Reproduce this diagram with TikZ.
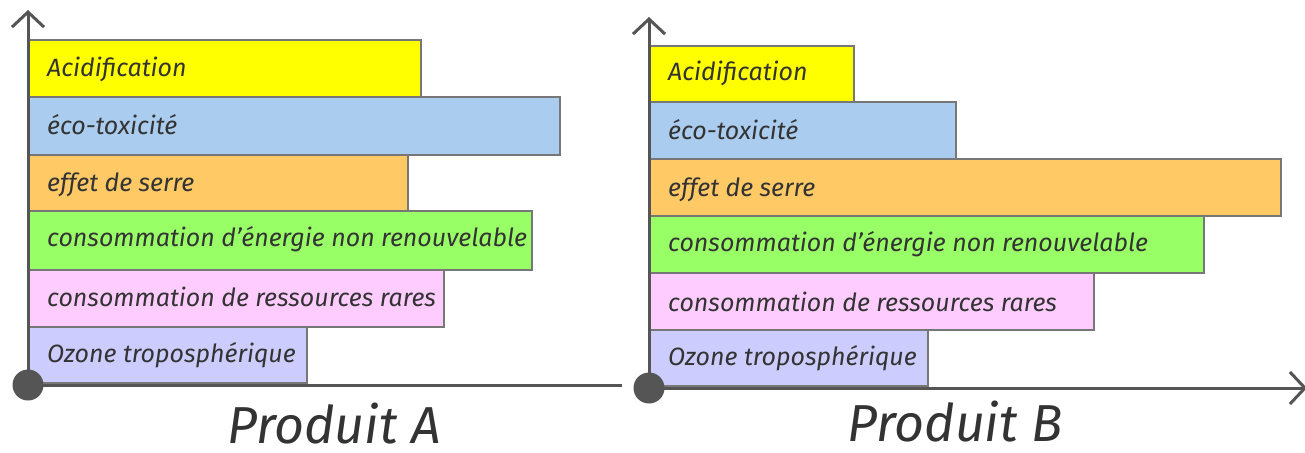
\documentclass[tikz,border=0pt]{standalone}
\usepackage{fontspec}
\setmainfont{Fira Sans}
\usetikzlibrary{arrows.meta}
\definecolor{axisgray}{HTML}{555555}
\definecolor{edgegray}{HTML}{777777}
\definecolor{inkgray}{HTML}{333333}
\definecolor{cAcid}{HTML}{FFFF00}
\definecolor{cEco}{HTML}{AACCEE}
\definecolor{cSerre}{HTML}{FFC966}
\definecolor{cEnergie}{HTML}{99FF66}
\definecolor{cRares}{HTML}{FFCCFF}
\definecolor{cOzone}{HTML}{CCCCFF}
\tikzset{
  axisline/.style={draw=axisgray, line width=3pt},
  axisarrow/.style={axisline, -{Straight Barb[length=15pt,width=32pt,line width=3pt]}},
  origindot/.style={fill=axisgray},
  barbox/.style={draw=edgegray, line width=2pt},
  barlabel/.style={anchor=base west, inner sep=0pt, text=inkgray,
    font=\fontsize{25}{30}\selectfont\itshape},
  title/.style={anchor=base, inner sep=0pt, text=inkgray,
    font=\fontsize{52}{60}\selectfont\itshape},
}
\begin{document}
\begin{tikzpicture}[x=1pt, y=-1pt]
\useasboundingbox (0,0) rectangle (1305,452);

% ---------- Produit A ----------
\coordinate (oA) at (28,385);
\coordinate (yA) at (28,10);
\coordinate (xA) at (622,385);
\draw[barbox, fill=cAcid]    (29,40)  rectangle (421,97);
\draw[barbox, fill=cEco]     (29,97)  rectangle (560,155);
\draw[barbox, fill=cSerre]   (29,155) rectangle (408,211);
\draw[barbox, fill=cEnergie] (29,211) rectangle (532,270);
\draw[barbox, fill=cRares]   (29,270) rectangle (444,327);
\draw[barbox, fill=cOzone]   (29,327) rectangle (307,383);
\node[barlabel] (a1) at (47,76)  {Acidification};
\node[barlabel] (a2) at (47,134) {éco-toxicité};
\node[barlabel] (a3) at (47,191) {effet de serre};
\node[barlabel] (a4) at (47,246) {consommation d’énergie non renouvelable};
\node[barlabel] (a5) at (47,306) {consommation de ressources rares};
\node[barlabel] (a6) at (47,362) {Ozone troposphérique};
\draw[axisarrow] (oA) -- (yA);
\draw[axisline] (oA) -- (xA);
\fill[origindot] (oA) circle (15.5);
\node[title] (tA) at (334,443) {Produit A};

% ---------- Produit B ----------
\coordinate (oB) at (649,388);
\coordinate (yB) at (649,17);
\coordinate (xB) at (1307,388);
\draw[barbox, fill=cAcid]    (650,46)  rectangle (854,102);
\draw[barbox, fill=cEco]     (650,102) rectangle (956,159);
\draw[barbox, fill=cSerre]   (650,159) rectangle (1281,216);
\draw[barbox, fill=cEnergie] (650,216) rectangle (1204,273);
\draw[barbox, fill=cRares]   (650,273) rectangle (1094,330);
\draw[barbox, fill=cOzone]   (650,330) rectangle (928,386);
\node[barlabel] (b1) at (668,81)  {Acidification};
\node[barlabel] (b2) at (668,139) {éco-toxicité};
\node[barlabel] (b3) at (668,196) {effet de serre};
\node[barlabel] (b4) at (668,251) {consommation d’énergie non renouvelable};
\node[barlabel] (b5) at (668,311) {consommation de ressources rares};
\node[barlabel] (b6) at (668,365) {Ozone troposphérique};
\draw[axisarrow] (oB) -- (yB);
\draw[axisarrow] (oB) -- (xB);
\fill[origindot] (oB) circle (15.5);
\node[title] (tB) at (955,441) {Produit B};
\end{tikzpicture}
\end{document}
